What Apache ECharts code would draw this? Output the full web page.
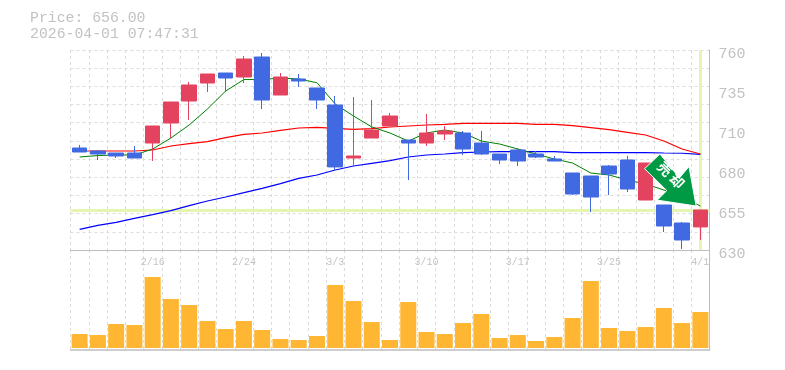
<!DOCTYPE html>
<html>
<head>
<meta charset="utf-8">
<style>html,body{margin:0;padding:0;background:#fff}#c{width:785px;height:370px}</style>
<script src="https://cdn.jsdelivr.net/npm/echarts@6/dist/echarts.min.js"></script>
</head>
<body>
<div id="c"></div>
<script>
const categories = ['2/9','2/10','2/12','2/13','2/16','2/17','2/18','2/19','2/20','2/24','2/25','2/26','2/27','3/2','3/3','3/4','3/5','3/6','3/9','3/10','3/11','3/12','3/13','3/16','3/17','3/18','3/19','3/23','3/24','3/25','3/26','3/27','3/30','3/31','4/1'];
const opens  = [696.3,694.35,693.05,693.05,699.55,712.55,726.85,738.55,745.05,742.45,755.45,730.75,741.15,735.3,724.25,689.8,702.8,710.6,701.5,699.55,705.4,706.05,699.55,692.4,695,692.4,689.15,680.05,678.1,684.6,688.5,662.5,659.25,647.55,645];
const closes = [693.7,692.4,691.1,689.8,710.6,726.2,737.25,744.4,741.8,754.15,727.5,742.45,739.85,727.5,684,691.1,708,717.1,699.55,706.05,707.35,695.65,692.4,688.5,687.85,690.45,687.85,666.4,664.45,679.4,669.65,686.55,645.6,636.5,656];
const lows   = [693.7,688.5,689.8,689.8,687.85,702.8,714.5,732.7,732.7,738.55,721.65,730.75,735.95,721.65,681.35,684.6,702.8,710.6,675.5,697.6,701.5,691.75,691.75,685.9,684.6,689.8,687.85,665.75,654.7,665.75,667.7,662.5,641.7,630.65,636.5];
const highs  = [698.3,695,693.05,697.6,710.6,726.2,739.2,744.4,745.05,756.1,758.05,745.05,744.4,735.3,730.1,729.45,727.5,719.05,701.5,718.4,710.6,707.35,707.35,692.4,696.3,694.35,691.1,680.05,678.1,685.25,691.1,686.55,659.25,648.2,656];
const ma5  = [690.45,691.4,691.75,691.75,695.65,702.8,711.25,721.65,733.35,740.8,740.8,741.8,741.15,738.75,724.9,717.1,710,706.05,700.85,706.05,708,706.05,700.85,698.9,695.65,692.4,689.15,686.55,680.05,678.75,675.5,672.9,669,664.45,658.6];
const ma25 = [694.35,694.35,694.35,694.35,695,697.6,699.1,700.4,703,705.2,706.05,707.7,709.3,709.75,709.1,708.45,708.85,709.95,710.6,711.25,711.7,712.35,712.35,712.35,712.35,711.7,711.7,710.8,709.5,708.2,706.5,704.75,700.85,695.65,692.4];
const ma75 = [643.45,646.05,648,650.6,652.95,655.55,658.8,661.85,664.45,667.25,670.1,673.1,676.6,678.75,682,684.6,686.35,688.05,690.45,691.75,692.4,693.25,693.7,693.9,693.9,693.9,693.9,693.25,693.25,693.25,693.25,693.25,693.05,692.9,692.2];
const volumes = [14,13,24,23,71,49,43,27,19,27,18,9,8,12,63,47,26,8,46,16,14,25,34,10,13,7,11,30,67,20,17,21,40,25,36];
const priceTicks = ['630','655','680','710','735','760'];
const priceText = 'Price: 656.00';
const timeText = '2026-04-01 07:47:31';
const currentPrice = 656;
const arrowLabel = '売 却';

const candles = categories.map((_, i) => [opens[i], closes[i], lows[i], highs[i]]);
const GREY = '#bdbdbd', GRID = '#dcdcdc', MONO = '"Liberation Mono", monospace';
const dashed = {show: true, lineStyle: {color: GRID, type: [3, 3], width: 1}};
const maLine = (data, color, width) => ({
  type: 'line', data, xAxisIndex: 0, yAxisIndex: 0, showSymbol: false, symbol: 'none', silent: true,
  smooth: false, z: 2, lineStyle: {color, width}, animation: false
});
const chart = echarts.init(document.getElementById('c'), null, {renderer: 'canvas'});
chart.setOption({
  animation: false,
  backgroundColor: '#fff',
  title: {text: priceText + '\n' + timeText, left: 30, top: 10, padding: 0,
    textStyle: {fontFamily: MONO, fontSize: 14.8, fontWeight: 'normal', color: '#c2c2c2', lineHeight: 16}},
  grid: [
    {left: 70.5, top: 50, width: 639, height: 200},
    {left: 70.5, top: 250, width: 639, height: 100},
    {left: 70.5, top: 54, width: 639, height: 200}
  ],
  xAxis: [
    {type: 'category', gridIndex: 0, data: categories, boundaryGap: true, axisTick: {show: false}, axisLabel: {show: false},
     axisLine: {show: true, onZero: false, lineStyle: {color: GREY, width: 1}},
     splitLine: Object.assign({interval: 0}, dashed)},
    {type: 'category', gridIndex: 1, data: categories, boundaryGap: true, axisTick: {show: false}, axisLabel: {show: false},
     axisLine: {show: true, onZero: false, lineStyle: {color: GREY, width: 1.5}},
     splitLine: Object.assign({interval: 0}, dashed)},
    {type: 'category', gridIndex: 1, position: 'top', data: categories, boundaryGap: true, axisTick: {show: false},
     axisLine: {show: false, onZero: false}, splitLine: {show: false},
     axisLabel: {show: true, inside: true, margin: 7, interval: (i) => i % 5 === 4, hideOverlap: false,
       fontFamily: MONO, fontSize: 10, color: '#c4c4c4'}},
    {type: 'category', gridIndex: 2, data: categories, show: false}
  ],
  yAxis: [
    {type: 'value', gridIndex: 0, min: 630, max: 760, position: 'right', scale: true, splitLine: {show: false},
     axisTick: {show: false}, axisLabel: {show: false}, axisLine: {show: true, lineStyle: {color: GREY, width: 1}}},
    {type: 'value', gridIndex: 0, min: 0, max: 11, interval: 1, position: 'left', axisTick: {show: false}, axisLabel: {show: false},
     axisLine: {show: false}, splitLine: dashed},
    {type: 'value', gridIndex: 2, min: 0, max: 5, interval: 1, position: 'right', axisTick: {show: false}, axisLine: {show: false},
     splitLine: {show: false},
     axisLabel: {show: true, margin: 9, showMinLabel: true, showMaxLabel: true, hideOverlap: false,
       fontFamily: MONO, fontSize: 15, color: '#c2c2c2',
       formatter: (v) => priceTicks[v]}},
    {type: 'value', gridIndex: 1, min: -2, max: 98, position: 'right', splitLine: {show: false}, axisTick: {show: false},
     axisLabel: {show: false}, axisLine: {show: true, onZero: false, lineStyle: {color: GREY, width: 1}}}
  ],
  series: [
    Object.assign(maLine(ma75, '#0000ff', 1.2), {
      markLine: {silent: true, symbol: 'none', z: 1, animation: false, label: {show: false},
        lineStyle: {color: '#e6f5b0', width: 3, type: 'solid'},
        data: [{xAxis: categories[categories.length - 1]}, {yAxis: currentPrice}]}
    }),
    maLine(ma25, '#ff0000', 1.2),
    maLine(ma5, '#008000', 1),
    {type: 'candlestick', data: candles, xAxisIndex: 0, yAxisIndex: 0, barWidth: 15, z: 3, silent: true, animation: false,
     itemStyle: {color: '#e4435f', color0: '#4169e1', borderColor: '#e4435f', borderColor0: '#4169e1', borderWidth: 1},
     markPoint: {silent: true, animation: false, z: 6, data: [{
       coord: [categories[categories.length - 1], currentPrice],
       symbol: 'path://M15 0L0 14.3L21.7 35.7L12.3 45L50.3 50.7L43.3 12.3L34 23.3Z',
       symbolSize: [52, 52], symbolOffset: [-30, -30], symbolKeepAspect: true,
       itemStyle: {color: '#009944', borderColor: '#fff', borderWidth: 1},
       label: {show: true, formatter: arrowLabel, position: 'inside', rotate: -45, offset: [-3, -4],
         fontFamily: '"Noto Sans CJK JP"', fontSize: 14, fontWeight: 'bold', color: '#fff'}
     }]}},
    {type: 'bar', data: volumes, xAxisIndex: 1, yAxisIndex: 3, barWidth: 16, silent: true, animation: false,
     itemStyle: {color: '#ffb733'}}
  ]
});
</script>
</body>
</html>
